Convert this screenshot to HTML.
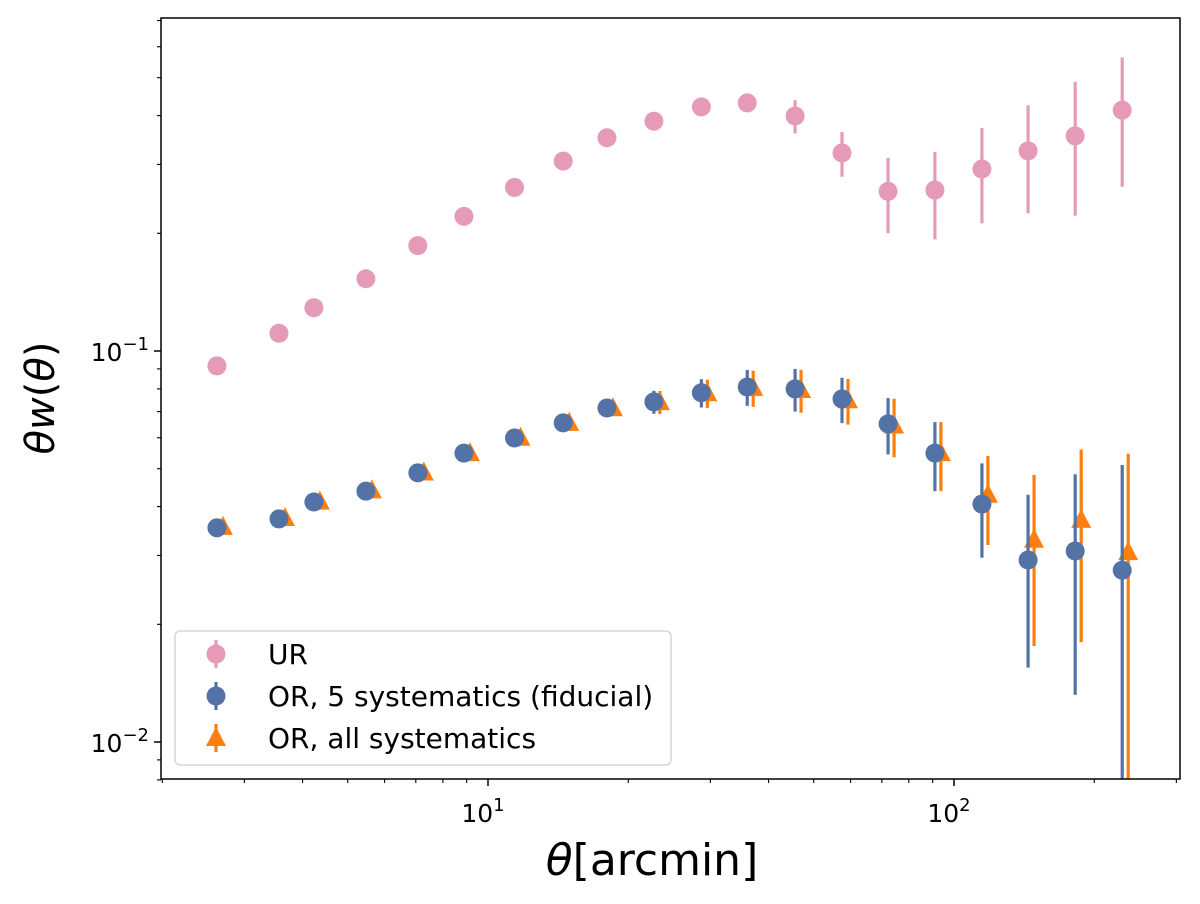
<!DOCTYPE html>
<html><head><meta charset="utf-8"><style>
body{margin:0;background:#fff}
svg{display:block;font-family:"DejaVu Sans","Liberation Sans",sans-serif}
</style></head><body>
<svg id="chart" width="1200" height="904" viewBox="0 0 1200 904" xmlns="http://www.w3.org/2000/svg"></svg>
<script>
const theta=[2.62,3.56,4.23,5.47,7.07,8.88,11.4,14.5,18.0,22.7,28.7,36.0,45.6,57.5,72.2,91.0,114.8,144.2,182,229.6];
const urVals=[0.0916,0.111,0.129,0.153,0.186,0.221,0.262,0.306,0.351,0.387,0.421,0.431,0.399,0.321,0.256,0.258,0.292,0.325,0.355,0.413];
const urErr=[0.002,0.002,0.002,0.003,0.003,0.004,0.005,0.006,0.007,0.008,0.01,0.02,0.039,0.042,0.056,0.065,0.08,0.1,0.133,0.15];
const orVals=[0.0353,0.0372,0.0411,0.0438,0.0488,0.0548,0.0599,0.0655,0.0715,0.0741,0.0782,0.0809,0.0800,0.0754,0.0651,0.0548,0.0406,0.0292,0.0308,0.0275];
const orErr=[0.001,0.001,0.0012,0.0013,0.0015,0.0018,0.002,0.0025,0.003,0.005,0.0065,0.0085,0.010,0.010,0.0107,0.011,0.011,0.0137,0.0176,0.0236];
const allVals=[0.0355,0.0374,0.0412,0.0440,0.0489,0.0548,0.0600,0.0655,0.0714,0.0740,0.0780,0.0805,0.0795,0.0748,0.0645,0.0548,0.0429,0.0329,0.0370,0.0306];
const allErr=[0.001,0.001,0.0012,0.0013,0.0015,0.0018,0.002,0.0025,0.003,0.005,0.0065,0.0085,0.010,0.010,0.011,0.011,0.011,0.0153,0.019,0.024];
const PL=161,PR=1180,PT=18,PB=779;
const X=v=>488+(Math.log10(v)-1)*466;
const Y=v=>351-(Math.log10(v)+1)*391;
const svg=document.getElementById('chart');
const NS='http://www.w3.org/2000/svg';
function mk(tag,attrs,parent){const e=document.createElementNS(NS,tag);for(const k in attrs)e.setAttribute(k,attrs[k]);(parent||svg).appendChild(e);return e;}
const clip=mk('clipPath',{id:'pc'});mk('rect',{x:PL,y:PT,width:PR-PL,height:PB-PT},clip);
const plot=mk('g',{'clip-path':'url(#pc)'});


function series(vals,errs,color,shape,mult,name){
  const g=mk('g',{},plot);
  
  
  vals.forEach((v,i)=>{
    const x=X(theta[i]*mult),y=Y(v);
    const lo=v-errs[i];
    const yb=lo>0?Y(lo):PB+10;
    const bar=mk('line',{x1:x,x2:x,y1:Y(v+errs[i]),y2:yb,stroke:color,'stroke-width':3.2},g);
    
    
    let m;
    if(shape==='c') m=mk('circle',{cx:x,cy:y,r:9.5,fill:color},g);
    else m=mk('polygon',{points:`${x},${y-11} ${x+10},${y+8} ${x-10},${y+8}`,fill:color},g);
    
    
  });
}
series(urVals,urErr,'#e59bb8','c',1,'ur-series');
series(allVals,allErr,'#ff7f0e','t',1.03,'or-all-series');
series(orVals,orErr,'#5372a5','c',1,'or-fiducial-series');
const box=mk('rect',{x:PL,y:PT,width:PR-PL,height:PB-PT,fill:'none',stroke:'#000','stroke-width':1.5});


const xt=mk('g',{});


for(const d of [1,10,100]){for(let k=1;k<10;k++){const v=d*k,x=X(v);if(x<PL-1||x>PR+1)continue;
  mk('line',{x1:x,x2:x,y1:PB,y2:PB+(k===1?7:4),stroke:'#000','stroke-width':k===1?1.5:1.1},xt);}}
[[10,'1'],[100,'2']].forEach(([v,e])=>{const t=mk('text',{x:X(v)-5,y:PB+43,'font-size':25,'text-anchor':'middle'},xt);t.innerHTML=`10<tspan dy="-11" font-size="18">${e}</tspan>`;
  });
const yt=mk('g',{});


for(const d of [0.001,0.01,0.1]){for(let k=1;k<10;k++){const v=d*k,y=Y(v);if(y<PT-1||y>PB+1)continue;
  mk('line',{x1:PL,x2:PL-(k===1?7:4),y1:y,y2:y,stroke:'#000','stroke-width':k===1?1.5:1.1},yt);}}
[[0.1,'−1'],[0.01,'−2']].forEach(([v,e])=>{const t=mk('text',{x:PL-12,y:Y(v)+10,'font-size':25,'text-anchor':'end'},yt);t.innerHTML=`10<tspan dy="-11" font-size="18">${e}</tspan>`;
  });
const xl=mk('text',{x:652,y:875,'font-size':44,'text-anchor':'middle'});
xl.innerHTML='<tspan font-style="italic">θ</tspan>[arcmin]';


const yl=mk('text',{x:0,y:0,'font-size':40,'text-anchor':'middle',transform:'translate(54,398) rotate(-90)'});
yl.innerHTML='<tspan font-style="italic">θw</tspan>(<tspan font-style="italic">θ</tspan>)';


const lg=mk('g',{});


mk('rect',{x:175,y:631,width:496,height:134,rx:5,fill:'#fff','fill-opacity':0.85,stroke:'#d6d6d6','stroke-width':1.5},lg);
const ents=[['UR','#e59bb8','c'],['OR, 5 systematics (fiducial)','#5372a5','c'],['OR, all systematics','#ff7f0e','t']];
ents.forEach(([lab,col,sh],i)=>{
  const y=654+i*42;
  const e=mk('g',{},lg);
  
  
  mk('line',{x1:216,x2:216,y1:y-14,y2:y+14,stroke:col,'stroke-width':3.2},e);
  if(sh==='c')mk('circle',{cx:216,cy:y,r:9.5,fill:col},e);
  else mk('polygon',{points:`216,${y-11} 226,${y+8} 206,${y+8}`,fill:col},e);
  const t=mk('text',{x:268,y:y+10,'font-size':28},e);t.textContent=lab;
});
</script>
</body></html>
